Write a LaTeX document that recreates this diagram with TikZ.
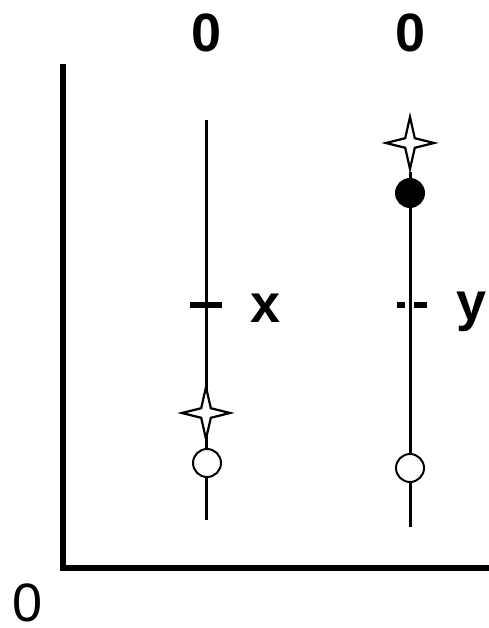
\documentclass[tikz,border=0pt]{standalone}
\usepackage{fontspec}
\setmainfont{Liberation Sans}
\begin{document}
\begin{tikzpicture}[x=1pt,y=-1pt,
  stem/.style={line width=3pt},
  axis/.style={line width=6pt, line join=miter},
  tickmark/.style={line width=6pt},
  sparkleline/.style={draw, fill=white, line width=2.2pt, line join=miter},
  sparkle/.pic={\path[sparkleline] (0,-26) -- (4.8,-4.8) -- (24,0) -- (4.8,4.8)
      -- (0,26) -- (-4.8,4.8) -- (-24,0) -- (-4.8,-4.8) -- cycle;},
  opendot/.style={circle, draw, fill=white, line width=2pt, minimum size=28pt, inner sep=0pt},
  filldot/.style={circle, draw, fill=black, line width=2pt, minimum size=28pt, inner sep=0pt},
  big/.style={font=\fontsize{54}{60}\selectfont\bfseries, inner sep=0pt, anchor=base},
  plain/.style={font=\fontsize{54}{60}\selectfont, inner sep=0pt, anchor=base},
]
\useasboundingbox (0,0) rectangle (489,628);
% axes
\coordinate (ytop) at (63,64);
\coordinate (origin) at (63,568);
\coordinate (xend) at (489,568);
\draw[axis] (ytop) -- (origin) -- (xend);
\node[plain] (orig0) at (28,621) {0};
% left column
\coordinate (ltop) at (206,120);
\coordinate (lbot) at (206,520);
\draw[stem] (ltop) -- (lbot);
\coordinate (ltickA) at (190,305);
\coordinate (ltickB) at (222,305);
\draw[tickmark] (ltickA) -- (ltickB);
\pic at (206,413) {sparkle};
\node[opendot] (lcirc) at (207,463) {};
\node[big] (l0) at (207,52) {0};
\node[big] (lx) at (266,322) {x};
% right column
\coordinate (rtop) at (410,172);
\coordinate (rbot) at (410,527);
\draw[stem] (rtop) -- (rbot);
\coordinate (rtickA) at (397,305);
\coordinate (rtickB) at (405,305);
\coordinate (rtickC) at (414,305);
\coordinate (rtickD) at (427,305);
\draw[tickmark] (rtickA) -- (rtickB);
\draw[tickmark] (rtickC) -- (rtickD);
\pic at (410,143) {sparkle};
\node[filldot] (rfill) at (410,193) {};
\node[opendot] (rcirc) at (410,468) {};
\node[big] (r0) at (411,52) {0};
\node[big] (ry) at (472,320) {y};
\end{tikzpicture}
\end{document}
